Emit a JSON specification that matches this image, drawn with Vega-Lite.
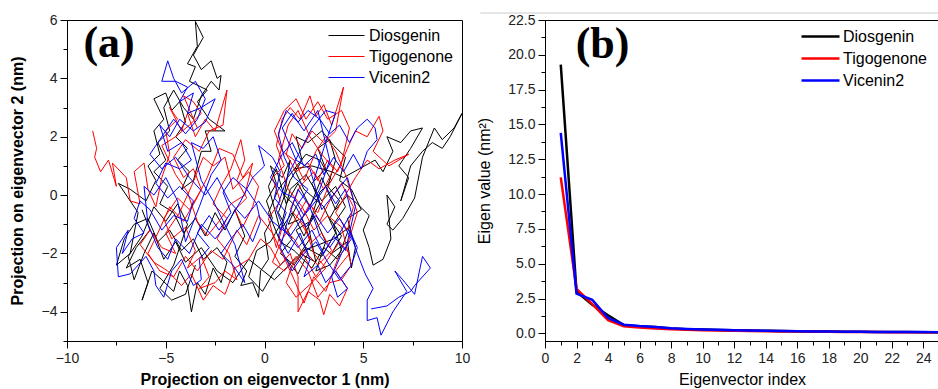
{
  "$schema": "https://vega.github.io/schema/vega-lite/v6.json",
  "padding": {"left": 8, "top": 12, "right": 0, "bottom": 0},
  "spacing": 83,
  "bounds": "flush",
  "resolve": {"scale": {"color": "independent"}, "legend": {"color": "independent"}},
  "config": {
    "font": "Liberation Sans",
    "view": {"stroke": "#000", "strokeWidth": 1},
    "axis": {
      "grid": false, "domainColor": "#000", "tickColor": "#000", "labelColor": "#222",
      "titleColor": "#000", "labelFontSize": 14, "labelFontWeight": "normal", "tickSize": 7,
      "labelPadding": 3, "titleFontSize": 16, "labelFont": "Liberation Sans", "titleFont": "Liberation Sans",
      "labelFlush": false, "labelOverlap": false
    },
    "legend": {
      "orient": "none", "title": null, "labelFontSize": 16,
      "labelColor": "#000", "labelFont": "Liberation Sans", "padding": 0
    }
  },
  "datasets": {
    "trajectory": [
      {"s":"Diosgenin","pc1":-6.2,"pc2":-0.5},{"s":"Diosgenin","pc1":-5.8,"pc2":-1.2},{"s":"Diosgenin","pc1":-6.5,"pc2":-1.8},{"s":"Diosgenin","pc1":-7.0,"pc2":-2.5},{"s":"Diosgenin","pc1":-6.3,"pc2":-2.2},{"s":"Diosgenin","pc1":-5.9,"pc2":-3.0},{"s":"Diosgenin","pc1":-6.2,"pc2":-3.6},{"s":"Diosgenin","pc1":-5.7,"pc2":-2.6},{"s":"Diosgenin","pc1":-5.2,"pc2":-2.9},{"s":"Diosgenin","pc1":-4.6,"pc2":-3.3},{"s":"Diosgenin","pc1":-4.3,"pc2":-2.6},{"s":"Diosgenin","pc1":-3.9,"pc2":-3.1},{"s":"Diosgenin","pc1":-3.7,"pc2":-4.0},{"s":"Diosgenin","pc1":-3.4,"pc2":-3.0},{"s":"Diosgenin","pc1":-3.0,"pc2":-3.4},{"s":"Diosgenin","pc1":-2.6,"pc2":-2.5},{"s":"Diosgenin","pc1":-2.2,"pc2":-3.0},{"s":"Diosgenin","pc1":-1.9,"pc2":-2.3},{"s":"Diosgenin","pc1":-2.4,"pc2":-1.8},{"s":"Diosgenin","pc1":-3.1,"pc2":-2.2},{"s":"Diosgenin","pc1":-3.6,"pc2":-1.5},{"s":"Diosgenin","pc1":-4.2,"pc2":-1.9},{"s":"Diosgenin","pc1":-4.8,"pc2":-1.2},{"s":"Diosgenin","pc1":-5.4,"pc2":-1.6},{"s":"Diosgenin","pc1":-5.9,"pc2":-0.8},{"s":"Diosgenin","pc1":-6.6,"pc2":-1.0},{"s":"Diosgenin","pc1":-7.1,"pc2":-1.5},{"s":"Diosgenin","pc1":-7.5,"pc2":-2.4},{"s":"Diosgenin","pc1":-6.8,"pc2":-2.0},{"s":"Diosgenin","pc1":-6.4,"pc2":-0.6},{"s":"Diosgenin","pc1":-7.4,"pc2":0.4},{"s":"Diosgenin","pc1":-6.8,"pc2":0.2},{"s":"Diosgenin","pc1":-6.0,"pc2":-0.2},{"s":"Diosgenin","pc1":-5.5,"pc2":0.5},{"s":"Diosgenin","pc1":-5.9,"pc2":1.0},{"s":"Diosgenin","pc1":-5.3,"pc2":1.4},{"s":"Diosgenin","pc1":-5.6,"pc2":2.2},{"s":"Diosgenin","pc1":-5.1,"pc2":2.6},{"s":"Diosgenin","pc1":-5.6,"pc2":3.3},{"s":"Diosgenin","pc1":-5.0,"pc2":3.5},{"s":"Diosgenin","pc1":-4.7,"pc2":2.9},{"s":"Diosgenin","pc1":-4.3,"pc2":3.2},{"s":"Diosgenin","pc1":-4.0,"pc2":2.5},{"s":"Diosgenin","pc1":-4.5,"pc2":2.0},{"s":"Diosgenin","pc1":-3.9,"pc2":1.6},{"s":"Diosgenin","pc1":-4.4,"pc2":1.2},{"s":"Diosgenin","pc1":-3.8,"pc2":0.8},{"s":"Diosgenin","pc1":-4.2,"pc2":0.2},{"s":"Diosgenin","pc1":-3.6,"pc2":0.5},{"s":"Diosgenin","pc1":-3.2,"pc2":1.5},{"s":"Diosgenin","pc1":-2.7,"pc2":1.5},{"s":"Diosgenin","pc1":-3.0,"pc2":2.2},{"s":"Diosgenin","pc1":-2.0,"pc2":2.2},{"s":"Diosgenin","pc1":-2.8,"pc2":2.6},{"s":"Diosgenin","pc1":-3.4,"pc2":3.2},{"s":"Diosgenin","pc1":-2.9,"pc2":3.6},{"s":"Diosgenin","pc1":-3.8,"pc2":3.9},{"s":"Diosgenin","pc1":-3.5,"pc2":4.4},{"s":"Diosgenin","pc1":-3.9,"pc2":4.5},{"s":"Diosgenin","pc1":-3.4,"pc2":5.1},{"s":"Diosgenin","pc1":-3.5,"pc2":5.95},{"s":"Diosgenin","pc1":-3.1,"pc2":5.4},{"s":"Diosgenin","pc1":-3.6,"pc2":4.8},{"s":"Diosgenin","pc1":-3.2,"pc2":4.3},{"s":"Diosgenin","pc1":-2.7,"pc2":4.6},{"s":"Diosgenin","pc1":-2.4,"pc2":4.0},{"s":"Diosgenin","pc1":-2.2,"pc2":4.1},{"s":"Diosgenin","pc1":-2.3,"pc2":3.6},{"s":"Diosgenin","pc1":-2.7,"pc2":3.9},{"s":"Diosgenin","pc1":-3.2,"pc2":3.4},{"s":"Diosgenin","pc1":-3.6,"pc2":2.6},{"s":"Diosgenin","pc1":-4.1,"pc2":3.0},{"s":"Diosgenin","pc1":-4.6,"pc2":3.6},{"s":"Diosgenin","pc1":-5.1,"pc2":3.0},{"s":"Diosgenin","pc1":-4.8,"pc2":2.2},{"s":"Diosgenin","pc1":-5.4,"pc2":1.8},{"s":"Diosgenin","pc1":-5.0,"pc2":1.2},{"s":"Diosgenin","pc1":-5.6,"pc2":0.8},{"s":"Diosgenin","pc1":-4.9,"pc2":0.3},{"s":"Diosgenin","pc1":-5.3,"pc2":-0.3},{"s":"Diosgenin","pc1":-4.6,"pc2":-0.6},{"s":"Diosgenin","pc1":-4.1,"pc2":-1.3},{"s":"Diosgenin","pc1":-3.5,"pc2":-0.8},{"s":"Diosgenin","pc1":-3.0,"pc2":-1.4},{"s":"Diosgenin","pc1":-2.5,"pc2":-0.6},{"s":"Diosgenin","pc1":-2.0,"pc2":-1.2},{"s":"Diosgenin","pc1":-1.5,"pc2":-0.5},{"s":"Diosgenin","pc1":-1.0,"pc2":-1.4},{"s":"Diosgenin","pc1":-1.5,"pc2":-2.1},{"s":"Diosgenin","pc1":-0.9,"pc2":-2.6},{"s":"Diosgenin","pc1":-1.2,"pc2":-3.1},{"s":"Diosgenin","pc1":-0.6,"pc2":-3.0},{"s":"Diosgenin","pc1":-0.3,"pc2":-3.5},{"s":"Diosgenin","pc1":-0.2,"pc2":-2.6},{"s":"Diosgenin","pc1":0.2,"pc2":-2.2},{"s":"Diosgenin","pc1":0.0,"pc2":-1.3},{"s":"Diosgenin","pc1":0.4,"pc2":-0.8},{"s":"Diosgenin","pc1":0.1,"pc2":-0.2},{"s":"Diosgenin","pc1":0.6,"pc2":0.4},{"s":"Diosgenin","pc1":0.3,"pc2":1.0},{"s":"Diosgenin","pc1":0.9,"pc2":0.6},{"s":"Diosgenin","pc1":1.3,"pc2":1.2},{"s":"Diosgenin","pc1":1.0,"pc2":0.0},{"s":"Diosgenin","pc1":1.6,"pc2":-0.4},{"s":"Diosgenin","pc1":1.2,"pc2":-1.0},{"s":"Diosgenin","pc1":1.9,"pc2":-0.8},{"s":"Diosgenin","pc1":2.3,"pc2":-1.5},{"s":"Diosgenin","pc1":1.8,"pc2":-2.0},{"s":"Diosgenin","pc1":2.6,"pc2":-2.3},{"s":"Diosgenin","pc1":2.2,"pc2":-1.0},{"s":"Diosgenin","pc1":2.8,"pc2":-0.3},{"s":"Diosgenin","pc1":2.4,"pc2":0.4},{"s":"Diosgenin","pc1":3.1,"pc2":0.9},{"s":"Diosgenin","pc1":2.7,"pc2":1.6},{"s":"Diosgenin","pc1":3.3,"pc2":1.9},{"s":"Diosgenin","pc1":3.6,"pc2":1.2},{"s":"Diosgenin","pc1":3.2,"pc2":0.3},{"s":"Diosgenin","pc1":3.8,"pc2":-0.2},{"s":"Diosgenin","pc1":3.3,"pc2":-0.8},{"s":"Diosgenin","pc1":3.9,"pc2":-1.4},{"s":"Diosgenin","pc1":3.4,"pc2":-2.0},{"s":"Diosgenin","pc1":4.2,"pc2":-1.6},{"s":"Diosgenin","pc1":4.4,"pc2":-2.5},{"s":"Diosgenin","pc1":4.6,"pc2":-1.8},{"s":"Diosgenin","pc1":4.2,"pc2":-0.8},{"s":"Diosgenin","pc1":4.9,"pc2":-0.5},{"s":"Diosgenin","pc1":4.4,"pc2":0.2},{"s":"Diosgenin","pc1":3.8,"pc2":0.5},{"s":"Diosgenin","pc1":4.1,"pc2":1.3},{"s":"Diosgenin","pc1":3.5,"pc2":1.7},{"s":"Diosgenin","pc1":2.9,"pc2":2.2},{"s":"Diosgenin","pc1":2.2,"pc2":1.8},{"s":"Diosgenin","pc1":1.6,"pc2":2.0},{"s":"Diosgenin","pc1":1.9,"pc2":1.2},{"s":"Diosgenin","pc1":1.3,"pc2":0.5},{"s":"Diosgenin","pc1":0.7,"pc2":-0.6},{"s":"Diosgenin","pc1":1.4,"pc2":-1.5},{"s":"Diosgenin","pc1":0.8,"pc2":-2.0},{"s":"Diosgenin","pc1":1.5,"pc2":-2.4},{"s":"Diosgenin","pc1":2.1,"pc2":-1.8},{"s":"Diosgenin","pc1":2.9,"pc2":-2.1},{"s":"Diosgenin","pc1":3.6,"pc2":-1.3},{"s":"Diosgenin","pc1":3.0,"pc2":-0.4},{"s":"Diosgenin","pc1":2.0,"pc2":0.2},{"s":"Diosgenin","pc1":1.5,"pc2":0.9},{"s":"Diosgenin","pc1":2.4,"pc2":1.0},{"s":"Diosgenin","pc1":3.4,"pc2":0.8},{"s":"Diosgenin","pc1":4.0,"pc2":0.6},{"s":"Diosgenin","pc1":4.8,"pc2":0.9},{"s":"Diosgenin","pc1":5.6,"pc2":1.2},{"s":"Diosgenin","pc1":6.0,"pc2":0.8},{"s":"Diosgenin","pc1":6.5,"pc2":1.5},{"s":"Diosgenin","pc1":6.2,"pc2":2.0},{"s":"Diosgenin","pc1":6.9,"pc2":1.8},{"s":"Diosgenin","pc1":7.4,"pc2":2.2},{"s":"Diosgenin","pc1":8.0,"pc2":2.3},{"s":"Diosgenin","pc1":7.4,"pc2":1.6},{"s":"Diosgenin","pc1":6.8,"pc2":1.0},{"s":"Diosgenin","pc1":7.3,"pc2":0.6},{"s":"Diosgenin","pc1":6.9,"pc2":-0.2},{"s":"Diosgenin","pc1":7.4,"pc2":1.0},{"s":"Diosgenin","pc1":8.0,"pc2":1.5},{"s":"Diosgenin","pc1":8.5,"pc2":1.8},{"s":"Diosgenin","pc1":9.0,"pc2":1.6},{"s":"Diosgenin","pc1":9.4,"pc2":2.0},{"s":"Diosgenin","pc1":10.0,"pc2":2.8},{"s":"Diosgenin","pc1":9.6,"pc2":2.3},{"s":"Diosgenin","pc1":9.0,"pc2":1.9},{"s":"Diosgenin","pc1":8.6,"pc2":2.3},{"s":"Diosgenin","pc1":8.0,"pc2":1.3},{"s":"Diosgenin","pc1":7.6,"pc2":-0.1},{"s":"Diosgenin","pc1":7.0,"pc2":-0.8},{"s":"Diosgenin","pc1":6.5,"pc2":-1.2},{"s":"Diosgenin","pc1":6.2,"pc2":-1.0},{"s":"Diosgenin","pc1":6.6,"pc2":-0.4},{"s":"Diosgenin","pc1":6.2,"pc2":0.0},{"s":"Diosgenin","pc1":6.4,"pc2":-1.5},{"s":"Diosgenin","pc1":6.0,"pc2":-2.2},{"s":"Diosgenin","pc1":5.5,"pc2":-2.4},{"s":"Diosgenin","pc1":5.3,"pc2":-1.8},{"s":"Diosgenin","pc1":5.0,"pc2":-1.2},{"s":"Diosgenin","pc1":5.3,"pc2":-0.7},{"s":"Diosgenin","pc1":4.7,"pc2":-0.3},{"s":"Diosgenin","pc1":4.2,"pc2":0.0},{"s":"Diosgenin","pc1":3.6,"pc2":-0.5},{"s":"Diosgenin","pc1":2.9,"pc2":0.6},{"s":"Diosgenin","pc1":2.3,"pc2":-0.4},{"s":"Diosgenin","pc1":1.7,"pc2":0.4},{"s":"Diosgenin","pc1":1.1,"pc2":-0.3},{"s":"Diosgenin","pc1":0.6,"pc2":0.9},{"s":"Diosgenin","pc1":0.2,"pc2":0.3},{"s":"Diosgenin","pc1":0.8,"pc2":-1.2},{"s":"Diosgenin","pc1":1.4,"pc2":-0.6},{"s":"Diosgenin","pc1":2.0,"pc2":-1.4},{"s":"Diosgenin","pc1":2.5,"pc2":-0.7},{"s":"Diosgenin","pc1":3.1,"pc2":-1.6},{"s":"Diosgenin","pc1":2.6,"pc2":-2.6},{"s":"Diosgenin","pc1":3.3,"pc2":-2.4},{"s":"Diosgenin","pc1":3.9,"pc2":-1.9},{"s":"Diosgenin","pc1":3.5,"pc2":-1.0},{"s":"Diosgenin","pc1":4.1,"pc2":-0.4},{"s":"Diosgenin","pc1":3.6,"pc2":0.3},{"s":"Diosgenin","pc1":2.9,"pc2":-0.2},{"s":"Diosgenin","pc1":2.1,"pc2":0.7},{"s":"Diosgenin","pc1":1.3,"pc2":0.2},{"s":"Diosgenin","pc1":0.9,"pc2":-0.9},{"s":"Diosgenin","pc1":0.3,"pc2":-1.6},{"s":"Diosgenin","pc1":-0.4,"pc2":-1.9},{"s":"Diosgenin","pc1":-0.8,"pc2":-2.8},{"s":"Diosgenin","pc1":-0.1,"pc2":-3.3},{"s":"Diosgenin","pc1":0.5,"pc2":-2.6},{"s":"Diosgenin","pc1":1.1,"pc2":-2.2},{"s":"Diosgenin","pc1":1.7,"pc2":-2.7},{"s":"Diosgenin","pc1":2.2,"pc2":-2.0},{"s":"Diosgenin","pc1":1.6,"pc2":-1.2},{"s":"Diosgenin","pc1":2.3,"pc2":-0.9},{"s":"Diosgenin","pc1":2.8,"pc2":0.1},{"s":"Diosgenin","pc1":3.4,"pc2":0.5},{"s":"Diosgenin","pc1":2.8,"pc2":1.2},{"s":"Diosgenin","pc1":2.1,"pc2":1.4},{"s":"Diosgenin","pc1":1.4,"pc2":0.8},{"s":"Diosgenin","pc1":0.7,"pc2":0.2},{"s":"Diosgenin","pc1":0.2,"pc2":-0.6},{"s":"Diosgenin","pc1":0.8,"pc2":-1.6},{"s":"Diosgenin","pc1":1.5,"pc2":-1.9},{"s":"Diosgenin","pc1":2.4,"pc2":-2.5},{"s":"Diosgenin","pc1":3.0,"pc2":-1.8},{"s":"Diosgenin","pc1":3.7,"pc2":-2.2},{"s":"Diosgenin","pc1":4.3,"pc2":-1.1},{"s":"Diosgenin","pc1":3.5,"pc2":-1.5},{"s":"Diosgenin","pc1":2.0,"pc2":-1.9},{"s":"Diosgenin","pc1":0.5,"pc2":-2.9},{"s":"Diosgenin","pc1":-0.8,"pc2":-2.2},{"s":"Diosgenin","pc1":-1.6,"pc2":-3.0},{"s":"Diosgenin","pc1":-2.4,"pc2":-2.6},{"s":"Diosgenin","pc1":-3.2,"pc2":-1.8},{"s":"Diosgenin","pc1":-4.0,"pc2":-2.3},{"s":"Diosgenin","pc1":-4.5,"pc2":-1.6},{"s":"Diosgenin","pc1":-5.1,"pc2":-2.2},{"s":"Diosgenin","pc1":-5.6,"pc2":-1.3},{"s":"Diosgenin","pc1":-6.1,"pc2":-2.0},{"s":"Diosgenin","pc1":-6.6,"pc2":-2.9},{"s":"Diosgenin","pc1":-6.9,"pc2":-2.1},{"s":"Diosgenin","pc1":-6.2,"pc2":-1.4},{"s":"Diosgenin","pc1":-5.6,"pc2":-0.4},{"s":"Diosgenin","pc1":-5.0,"pc2":-0.9},{"s":"Diosgenin","pc1":-4.4,"pc2":-0.3},{"s":"Diosgenin","pc1":-3.9,"pc2":-1.0},{"s":"Diosgenin","pc1":-4.6,"pc2":-2.4},{"s":"Diosgenin","pc1":-5.3,"pc2":-3.2},{"s":"Diosgenin","pc1":-4.7,"pc2":-3.6},{"s":"Diosgenin","pc1":-4.0,"pc2":-3.4},{"s":"Diosgenin","pc1":-3.5,"pc2":-2.4},
      {"s":"Tigogenone","pc1":-8.7,"pc2":2.2},{"s":"Tigogenone","pc1":-8.5,"pc2":1.6},{"s":"Tigogenone","pc1":-8.6,"pc2":1.3},{"s":"Tigogenone","pc1":-8.3,"pc2":0.8},{"s":"Tigogenone","pc1":-7.9,"pc2":1.2},{"s":"Tigogenone","pc1":-7.5,"pc2":0.3},{"s":"Tigogenone","pc1":-7.7,"pc2":1.1},{"s":"Tigogenone","pc1":-7.0,"pc2":0.6},{"s":"Tigogenone","pc1":-6.8,"pc2":-0.2},{"s":"Tigogenone","pc1":-6.3,"pc2":-0.3},{"s":"Tigogenone","pc1":-6.6,"pc2":0.8},{"s":"Tigogenone","pc1":-6.1,"pc2":1.1},{"s":"Tigogenone","pc1":-5.9,"pc2":0.2},{"s":"Tigogenone","pc1":-5.5,"pc2":-0.4},{"s":"Tigogenone","pc1":-5.2,"pc2":0.6},{"s":"Tigogenone","pc1":-4.8,"pc2":1.4},{"s":"Tigogenone","pc1":-5.0,"pc2":2.2},{"s":"Tigogenone","pc1":-4.4,"pc2":2.6},{"s":"Tigogenone","pc1":-4.8,"pc2":3.0},{"s":"Tigogenone","pc1":-4.2,"pc2":2.2},{"s":"Tigogenone","pc1":-3.9,"pc2":2.8},{"s":"Tigogenone","pc1":-3.5,"pc2":2.0},{"s":"Tigogenone","pc1":-3.0,"pc2":2.6},{"s":"Tigogenone","pc1":-2.5,"pc2":2.2},{"s":"Tigogenone","pc1":-1.9,"pc2":3.6},{"s":"Tigogenone","pc1":-2.1,"pc2":2.4},{"s":"Tigogenone","pc1":-2.8,"pc2":2.2},{"s":"Tigogenone","pc1":-3.3,"pc2":1.5},{"s":"Tigogenone","pc1":-4.0,"pc2":1.9},{"s":"Tigogenone","pc1":-4.6,"pc2":1.3},{"s":"Tigogenone","pc1":-4.1,"pc2":0.6},{"s":"Tigogenone","pc1":-3.6,"pc2":0.9},{"s":"Tigogenone","pc1":-3.2,"pc2":0.2},{"s":"Tigogenone","pc1":-3.8,"pc2":-0.5},{"s":"Tigogenone","pc1":-4.4,"pc2":-0.1},{"s":"Tigogenone","pc1":-5.1,"pc2":-0.8},{"s":"Tigogenone","pc1":-4.7,"pc2":-1.5},{"s":"Tigogenone","pc1":-4.0,"pc2":-1.1},{"s":"Tigogenone","pc1":-3.5,"pc2":-1.9},{"s":"Tigogenone","pc1":-3.9,"pc2":-2.5},{"s":"Tigogenone","pc1":-3.2,"pc2":-2.1},{"s":"Tigogenone","pc1":-2.8,"pc2":-2.8},{"s":"Tigogenone","pc1":-3.3,"pc2":-3.2},{"s":"Tigogenone","pc1":-2.5,"pc2":-3.0},{"s":"Tigogenone","pc1":-2.0,"pc2":-2.6},{"s":"Tigogenone","pc1":-1.4,"pc2":-2.9},{"s":"Tigogenone","pc1":-1.8,"pc2":-2.0},{"s":"Tigogenone","pc1":-2.4,"pc2":-1.5},{"s":"Tigogenone","pc1":-1.9,"pc2":-0.8},{"s":"Tigogenone","pc1":-2.6,"pc2":-0.3},{"s":"Tigogenone","pc1":-2.2,"pc2":0.3},{"s":"Tigogenone","pc1":-1.7,"pc2":0.9},{"s":"Tigogenone","pc1":-1.2,"pc2":1.9},{"s":"Tigogenone","pc1":-1.0,"pc2":1.2},{"s":"Tigogenone","pc1":-1.4,"pc2":0.5},{"s":"Tigogenone","pc1":-0.9,"pc2":-0.1},{"s":"Tigogenone","pc1":-1.5,"pc2":-0.5},{"s":"Tigogenone","pc1":-1.1,"pc2":-1.1},{"s":"Tigogenone","pc1":-0.6,"pc2":-0.4},{"s":"Tigogenone","pc1":-0.3,"pc2":0.3},{"s":"Tigogenone","pc1":-0.8,"pc2":0.8},{"s":"Tigogenone","pc1":-1.6,"pc2":0.2},{"s":"Tigogenone","pc1":-2.0,"pc2":1.3},{"s":"Tigogenone","pc1":-2.6,"pc2":1.0},{"s":"Tigogenone","pc1":-3.1,"pc2":1.3},{"s":"Tigogenone","pc1":-3.7,"pc2":0.3},{"s":"Tigogenone","pc1":-4.3,"pc2":-0.6},{"s":"Tigogenone","pc1":-5.0,"pc2":-1.3},{"s":"Tigogenone","pc1":-4.5,"pc2":-2.0},{"s":"Tigogenone","pc1":-5.2,"pc2":-1.8},{"s":"Tigogenone","pc1":-5.8,"pc2":-1.2},{"s":"Tigogenone","pc1":-6.3,"pc2":-1.7},{"s":"Tigogenone","pc1":-5.6,"pc2":-2.3},{"s":"Tigogenone","pc1":-4.9,"pc2":-2.6},{"s":"Tigogenone","pc1":-4.2,"pc2":-3.1},{"s":"Tigogenone","pc1":-3.7,"pc2":-2.7},{"s":"Tigogenone","pc1":-3.1,"pc2":-3.6},{"s":"Tigogenone","pc1":-2.6,"pc2":-3.1},{"s":"Tigogenone","pc1":-2.0,"pc2":-3.4},{"s":"Tigogenone","pc1":-1.5,"pc2":-2.5},{"s":"Tigogenone","pc1":-0.8,"pc2":-2.2},{"s":"Tigogenone","pc1":-0.2,"pc2":-1.5},{"s":"Tigogenone","pc1":0.3,"pc2":-1.8},{"s":"Tigogenone","pc1":0.8,"pc2":-2.4},{"s":"Tigogenone","pc1":1.3,"pc2":-2.0},{"s":"Tigogenone","pc1":1.7,"pc2":-2.8},{"s":"Tigogenone","pc1":1.7,"pc2":-4.0},{"s":"Tigogenone","pc1":2.2,"pc2":-3.3},{"s":"Tigogenone","pc1":2.8,"pc2":-3.6},{"s":"Tigogenone","pc1":3.0,"pc2":-4.1},{"s":"Tigogenone","pc1":3.3,"pc2":-3.4},{"s":"Tigogenone","pc1":3.8,"pc2":-3.8},{"s":"Tigogenone","pc1":4.2,"pc2":-3.2},{"s":"Tigogenone","pc1":3.6,"pc2":-2.6},{"s":"Tigogenone","pc1":4.3,"pc2":-2.0},{"s":"Tigogenone","pc1":3.8,"pc2":-1.6},{"s":"Tigogenone","pc1":3.2,"pc2":-2.2},{"s":"Tigogenone","pc1":2.6,"pc2":-2.8},{"s":"Tigogenone","pc1":2.1,"pc2":-2.2},{"s":"Tigogenone","pc1":1.5,"pc2":-1.5},{"s":"Tigogenone","pc1":0.9,"pc2":-1.1},{"s":"Tigogenone","pc1":0.6,"pc2":-1.8},{"s":"Tigogenone","pc1":0.2,"pc2":-0.8},{"s":"Tigogenone","pc1":0.8,"pc2":-0.2},{"s":"Tigogenone","pc1":0.4,"pc2":0.6},{"s":"Tigogenone","pc1":1.0,"pc2":1.0},{"s":"Tigogenone","pc1":0.6,"pc2":1.7},{"s":"Tigogenone","pc1":0.9,"pc2":2.6},{"s":"Tigogenone","pc1":1.3,"pc2":3.0},{"s":"Tigogenone","pc1":1.8,"pc2":2.6},{"s":"Tigogenone","pc1":2.3,"pc2":3.4},{"s":"Tigogenone","pc1":2.6,"pc2":2.7},{"s":"Tigogenone","pc1":3.0,"pc2":3.1},{"s":"Tigogenone","pc1":3.4,"pc2":2.4},{"s":"Tigogenone","pc1":4.0,"pc2":3.7},{"s":"Tigogenone","pc1":3.6,"pc2":2.2},{"s":"Tigogenone","pc1":3.0,"pc2":1.8},{"s":"Tigogenone","pc1":2.4,"pc2":2.2},{"s":"Tigogenone","pc1":1.9,"pc2":1.6},{"s":"Tigogenone","pc1":1.4,"pc2":2.1},{"s":"Tigogenone","pc1":1.1,"pc2":1.4},{"s":"Tigogenone","pc1":1.6,"pc2":0.8},{"s":"Tigogenone","pc1":2.2,"pc2":1.1},{"s":"Tigogenone","pc1":2.7,"pc2":0.5},{"s":"Tigogenone","pc1":3.2,"pc2":1.2},{"s":"Tigogenone","pc1":3.7,"pc2":0.8},{"s":"Tigogenone","pc1":4.2,"pc2":1.6},{"s":"Tigogenone","pc1":4.6,"pc2":2.2},{"s":"Tigogenone","pc1":5.2,"pc2":2.0},{"s":"Tigogenone","pc1":5.8,"pc2":2.7},{"s":"Tigogenone","pc1":6.0,"pc2":2.2},{"s":"Tigogenone","pc1":5.5,"pc2":1.5},{"s":"Tigogenone","pc1":6.3,"pc2":1.0},{"s":"Tigogenone","pc1":7.3,"pc2":1.4},{"s":"Tigogenone","pc1":6.6,"pc2":1.2},{"s":"Tigogenone","pc1":5.8,"pc2":0.9},{"s":"Tigogenone","pc1":5.2,"pc2":1.2},{"s":"Tigogenone","pc1":4.6,"pc2":0.6},{"s":"Tigogenone","pc1":4.1,"pc2":0.0},{"s":"Tigogenone","pc1":3.6,"pc2":-0.6},{"s":"Tigogenone","pc1":4.2,"pc2":-1.2},{"s":"Tigogenone","pc1":4.5,"pc2":-0.4},{"s":"Tigogenone","pc1":3.9,"pc2":0.4},{"s":"Tigogenone","pc1":3.3,"pc2":-0.2},{"s":"Tigogenone","pc1":2.8,"pc2":-0.9},{"s":"Tigogenone","pc1":2.3,"pc2":-0.3},{"s":"Tigogenone","pc1":1.8,"pc2":-0.9},{"s":"Tigogenone","pc1":2.4,"pc2":-1.6},{"s":"Tigogenone","pc1":2.9,"pc2":-1.3},{"s":"Tigogenone","pc1":3.4,"pc2":-1.9},{"s":"Tigogenone","pc1":2.7,"pc2":-2.4},{"s":"Tigogenone","pc1":2.0,"pc2":-1.9},{"s":"Tigogenone","pc1":1.4,"pc2":-2.4},{"s":"Tigogenone","pc1":1.1,"pc2":-3.0},{"s":"Tigogenone","pc1":1.6,"pc2":-3.5},{"s":"Tigogenone","pc1":2.4,"pc2":-3.0},{"s":"Tigogenone","pc1":3.1,"pc2":-2.5},{"s":"Tigogenone","pc1":2.5,"pc2":-2.0},{"s":"Tigogenone","pc1":2.0,"pc2":-1.0},{"s":"Tigogenone","pc1":1.3,"pc2":-0.5},{"s":"Tigogenone","pc1":1.8,"pc2":0.3},{"s":"Tigogenone","pc1":2.5,"pc2":0.8},{"s":"Tigogenone","pc1":3.0,"pc2":0.2},{"s":"Tigogenone","pc1":3.5,"pc2":0.9},{"s":"Tigogenone","pc1":2.9,"pc2":1.4},{"s":"Tigogenone","pc1":2.3,"pc2":2.0},{"s":"Tigogenone","pc1":1.7,"pc2":2.9},{"s":"Tigogenone","pc1":1.2,"pc2":2.4},{"s":"Tigogenone","pc1":0.7,"pc2":1.2},{"s":"Tigogenone","pc1":1.2,"pc2":0.2},{"s":"Tigogenone","pc1":1.9,"pc2":-0.4},{"s":"Tigogenone","pc1":2.5,"pc2":-1.2},{"s":"Tigogenone","pc1":3.2,"pc2":-0.7},{"s":"Tigogenone","pc1":3.9,"pc2":-1.1},{"s":"Tigogenone","pc1":4.4,"pc2":-2.4},{"s":"Tigogenone","pc1":3.9,"pc2":-2.9},{"s":"Tigogenone","pc1":3.3,"pc2":-3.0},{"s":"Tigogenone","pc1":2.7,"pc2":-3.5},{"s":"Tigogenone","pc1":2.2,"pc2":-2.6},{"s":"Tigogenone","pc1":1.6,"pc2":-2.1},{"s":"Tigogenone","pc1":1.0,"pc2":-2.6},{"s":"Tigogenone","pc1":0.4,"pc2":-2.3},{"s":"Tigogenone","pc1":0.9,"pc2":-1.5},{"s":"Tigogenone","pc1":1.5,"pc2":-0.9},{"s":"Tigogenone","pc1":2.1,"pc2":-0.2},{"s":"Tigogenone","pc1":2.7,"pc2":-0.6},{"s":"Tigogenone","pc1":3.3,"pc2":0.4},{"s":"Tigogenone","pc1":3.9,"pc2":1.1},{"s":"Tigogenone","pc1":4.3,"pc2":2.3},{"s":"Tigogenone","pc1":3.9,"pc2":2.9},{"s":"Tigogenone","pc1":3.2,"pc2":2.6},{"s":"Tigogenone","pc1":2.7,"pc2":3.2},{"s":"Tigogenone","pc1":2.1,"pc2":2.6},{"s":"Tigogenone","pc1":1.6,"pc2":3.3},{"s":"Tigogenone","pc1":1.0,"pc2":2.9},{"s":"Tigogenone","pc1":0.5,"pc2":2.2},{"s":"Tigogenone","pc1":0.9,"pc2":1.5},{"s":"Tigogenone","pc1":1.5,"pc2":1.2},{"s":"Tigogenone","pc1":2.0,"pc2":0.5},{"s":"Tigogenone","pc1":2.6,"pc2":1.5},{"s":"Tigogenone","pc1":3.1,"pc2":2.0},{"s":"Tigogenone","pc1":3.6,"pc2":1.5},{"s":"Tigogenone","pc1":4.1,"pc2":0.7},{"s":"Tigogenone","pc1":4.7,"pc2":-0.6},{"s":"Tigogenone","pc1":4.2,"pc2":-1.7},{"s":"Tigogenone","pc1":3.7,"pc2":-2.2},{"s":"Tigogenone","pc1":3.1,"pc2":-3.3},{"s":"Tigogenone","pc1":2.5,"pc2":-2.8},{"s":"Tigogenone","pc1":2.0,"pc2":-3.7},{"s":"Tigogenone","pc1":1.5,"pc2":-2.9},{"s":"Tigogenone","pc1":1.1,"pc2":-2.3},{"s":"Tigogenone","pc1":0.4,"pc2":-1.3},{"s":"Tigogenone","pc1":-0.3,"pc2":-0.7},{"s":"Tigogenone","pc1":-0.9,"pc2":-1.7},{"s":"Tigogenone","pc1":-1.4,"pc2":-1.2},{"s":"Tigogenone","pc1":-2.1,"pc2":-2.2},{"s":"Tigogenone","pc1":-2.7,"pc2":-1.9},{"s":"Tigogenone","pc1":-3.4,"pc2":-2.6},{"s":"Tigogenone","pc1":-4.0,"pc2":-2.1},{"s":"Tigogenone","pc1":-4.6,"pc2":-2.8},{"s":"Tigogenone","pc1":-5.3,"pc2":-2.6},{"s":"Tigogenone","pc1":-5.9,"pc2":-2.0},{"s":"Tigogenone","pc1":-5.4,"pc2":-1.3},{"s":"Tigogenone","pc1":-4.8,"pc2":-0.4},{"s":"Tigogenone","pc1":-4.1,"pc2":-0.9},{"s":"Tigogenone","pc1":-3.5,"pc2":-0.2},{"s":"Tigogenone","pc1":-2.9,"pc2":0.6},{"s":"Tigogenone","pc1":-2.3,"pc2":1.6},{"s":"Tigogenone","pc1":-1.6,"pc2":1.4},{"s":"Tigogenone","pc1":-1.1,"pc2":0.6},{"s":"Tigogenone","pc1":-0.6,"pc2":1.1},{"s":"Tigogenone","pc1":-1.0,"pc2":0.0},{"s":"Tigogenone","pc1":-1.7,"pc2":-0.3},{"s":"Tigogenone","pc1":-2.3,"pc2":-0.9},{"s":"Tigogenone","pc1":-2.9,"pc2":-1.4},{"s":"Tigogenone","pc1":-3.4,"pc2":-0.9},{"s":"Tigogenone","pc1":-3.9,"pc2":0.1},{"s":"Tigogenone","pc1":-4.5,"pc2":0.7},{"s":"Tigogenone","pc1":-5.2,"pc2":1.7},{"s":"Tigogenone","pc1":-4.5,"pc2":2.0},{"s":"Tigogenone","pc1":-3.8,"pc2":2.4},{"s":"Tigogenone","pc1":-3.2,"pc2":2.8},{"s":"Tigogenone","pc1":-3.6,"pc2":3.2},{"s":"Tigogenone","pc1":-4.1,"pc2":3.4},{"s":"Tigogenone","pc1":-3.4,"pc2":2.3},
      {"s":"Vicenin2","pc1":2.5,"pc2":0.5},{"s":"Vicenin2","pc1":3.0,"pc2":1.6},{"s":"Vicenin2","pc1":3.6,"pc2":2.8},{"s":"Vicenin2","pc1":3.1,"pc2":2.9},{"s":"Vicenin2","pc1":2.4,"pc2":2.3},{"s":"Vicenin2","pc1":1.8,"pc2":1.5},{"s":"Vicenin2","pc1":1.2,"pc2":0.7},{"s":"Vicenin2","pc1":0.6,"pc2":-0.5},{"s":"Vicenin2","pc1":1.0,"pc2":-1.2},{"s":"Vicenin2","pc1":1.7,"pc2":-1.8},{"s":"Vicenin2","pc1":2.4,"pc2":-1.2},{"s":"Vicenin2","pc1":3.0,"pc2":-2.0},{"s":"Vicenin2","pc1":3.5,"pc2":-1.4},{"s":"Vicenin2","pc1":4.1,"pc2":-1.9},{"s":"Vicenin2","pc1":4.6,"pc2":-0.4},{"s":"Vicenin2","pc1":4.2,"pc2":0.6},{"s":"Vicenin2","pc1":3.6,"pc2":0.1},{"s":"Vicenin2","pc1":2.9,"pc2":-0.5},{"s":"Vicenin2","pc1":2.3,"pc2":0.9},{"s":"Vicenin2","pc1":1.6,"pc2":1.2},{"s":"Vicenin2","pc1":0.9,"pc2":2.3},{"s":"Vicenin2","pc1":1.4,"pc2":2.8},{"s":"Vicenin2","pc1":2.0,"pc2":2.2},{"s":"Vicenin2","pc1":2.7,"pc2":2.9},{"s":"Vicenin2","pc1":3.3,"pc2":1.2},{"s":"Vicenin2","pc1":2.8,"pc2":0.2},{"s":"Vicenin2","pc1":2.1,"pc2":-0.6},{"s":"Vicenin2","pc1":1.3,"pc2":-1.4},{"s":"Vicenin2","pc1":0.4,"pc2":-0.9},{"s":"Vicenin2","pc1":-0.3,"pc2":-0.2},{"s":"Vicenin2","pc1":-1.0,"pc2":-0.8},{"s":"Vicenin2","pc1":-1.8,"pc2":-0.2},{"s":"Vicenin2","pc1":-2.4,"pc2":0.6},{"s":"Vicenin2","pc1":-3.0,"pc2":0.0},{"s":"Vicenin2","pc1":-3.8,"pc2":0.6},{"s":"Vicenin2","pc1":-4.5,"pc2":1.3},{"s":"Vicenin2","pc1":-5.2,"pc2":0.9},{"s":"Vicenin2","pc1":-5.8,"pc2":1.4},{"s":"Vicenin2","pc1":-5.3,"pc2":1.9},{"s":"Vicenin2","pc1":-4.6,"pc2":2.6},{"s":"Vicenin2","pc1":-4.0,"pc2":2.1},{"s":"Vicenin2","pc1":-3.4,"pc2":2.6},{"s":"Vicenin2","pc1":-3.0,"pc2":3.3},{"s":"Vicenin2","pc1":-3.5,"pc2":3.9},{"s":"Vicenin2","pc1":-4.2,"pc2":3.5},{"s":"Vicenin2","pc1":-4.6,"pc2":4.0},
      {"s":"Vicenin2","pc1":-4.9,"pc2":4.6},{"s":"Vicenin2","pc1":-5.2,"pc2":3.9},{"s":"Vicenin2","pc1":-4.5,"pc2":3.9},{"s":"Vicenin2","pc1":-3.9,"pc2":3.7},{"s":"Vicenin2","pc1":-4.3,"pc2":3.2},{"s":"Vicenin2","pc1":-3.6,"pc2":3.5},{"s":"Vicenin2","pc1":-3.9,"pc2":2.8},{"s":"Vicenin2","pc1":-3.2,"pc2":3.0},{"s":"Vicenin2","pc1":-2.5,"pc2":3.3},{"s":"Vicenin2","pc1":-3.0,"pc2":2.5},{"s":"Vicenin2","pc1":-3.6,"pc2":2.2},{"s":"Vicenin2","pc1":-4.3,"pc2":2.6},{"s":"Vicenin2","pc1":-4.8,"pc2":2.0},{"s":"Vicenin2","pc1":-5.3,"pc2":2.4},{"s":"Vicenin2","pc1":-4.9,"pc2":1.5},{"s":"Vicenin2","pc1":-4.2,"pc2":1.8},{"s":"Vicenin2","pc1":-3.7,"pc2":1.2},{"s":"Vicenin2","pc1":-4.3,"pc2":0.9},{"s":"Vicenin2","pc1":-5.0,"pc2":1.1},{"s":"Vicenin2","pc1":-5.5,"pc2":0.4},{"s":"Vicenin2","pc1":-4.9,"pc2":-0.1},{"s":"Vicenin2","pc1":-4.3,"pc2":0.3},{"s":"Vicenin2","pc1":-3.6,"pc2":-0.2},{"s":"Vicenin2","pc1":-3.9,"pc2":-0.9},{"s":"Vicenin2","pc1":-4.6,"pc2":-0.7},{"s":"Vicenin2","pc1":-5.2,"pc2":-1.2},{"s":"Vicenin2","pc1":-5.8,"pc2":-0.5},{"s":"Vicenin2","pc1":-6.3,"pc2":-0.2},{"s":"Vicenin2","pc1":-6.6,"pc2":-0.8},{"s":"Vicenin2","pc1":-6.1,"pc2":-1.3},{"s":"Vicenin2","pc1":-6.7,"pc2":-1.5},{"s":"Vicenin2","pc1":-7.2,"pc2":-2.0},{"s":"Vicenin2","pc1":-6.9,"pc2":-1.2},{"s":"Vicenin2","pc1":-7.5,"pc2":-1.8},{"s":"Vicenin2","pc1":-7.4,"pc2":-2.8},{"s":"Vicenin2","pc1":-6.8,"pc2":-2.7},{"s":"Vicenin2","pc1":-6.4,"pc2":-2.4},{"s":"Vicenin2","pc1":-6.0,"pc2":-2.1},{"s":"Vicenin2","pc1":-5.6,"pc2":-2.6},{"s":"Vicenin2","pc1":-5.5,"pc2":-3.1},{"s":"Vicenin2","pc1":-5.1,"pc2":-3.5},{"s":"Vicenin2","pc1":-4.7,"pc2":-2.6},{"s":"Vicenin2","pc1":-4.2,"pc2":-2.2},{"s":"Vicenin2","pc1":-3.6,"pc2":-3.1},{"s":"Vicenin2","pc1":-3.2,"pc2":-2.9},{"s":"Vicenin2","pc1":-3.3,"pc2":-2.2},{"s":"Vicenin2","pc1":-2.8,"pc2":-1.8},{"s":"Vicenin2","pc1":-3.4,"pc2":-1.3},{"s":"Vicenin2","pc1":-2.8,"pc2":-0.7},{"s":"Vicenin2","pc1":-2.3,"pc2":-1.2},{"s":"Vicenin2","pc1":-1.7,"pc2":-0.6},{"s":"Vicenin2","pc1":-2.1,"pc2":0.1},{"s":"Vicenin2","pc1":-1.6,"pc2":0.6},{"s":"Vicenin2","pc1":-0.9,"pc2":0.2},{"s":"Vicenin2","pc1":-0.4,"pc2":-0.3},{"s":"Vicenin2","pc1":-0.2,"pc2":-0.9},{"s":"Vicenin2","pc1":-0.6,"pc2":-1.6},{"s":"Vicenin2","pc1":-1.1,"pc2":-1.0},{"s":"Vicenin2","pc1":-1.7,"pc2":-1.5},{"s":"Vicenin2","pc1":-2.2,"pc2":-2.0},{"s":"Vicenin2","pc1":-1.6,"pc2":-2.4},{"s":"Vicenin2","pc1":-1.0,"pc2":-3.0},{"s":"Vicenin2","pc1":-1.5,"pc2":-1.7},{"s":"Vicenin2","pc1":-2.6,"pc2":-0.2},{"s":"Vicenin2","pc1":-3.2,"pc2":0.5},{"s":"Vicenin2","pc1":-3.7,"pc2":1.8},{"s":"Vicenin2","pc1":-3.1,"pc2":1.6},{"s":"Vicenin2","pc1":-2.6,"pc2":2.0},{"s":"Vicenin2","pc1":-2.2,"pc2":1.2},{"s":"Vicenin2","pc1":-2.7,"pc2":0.7},{"s":"Vicenin2","pc1":-3.3,"pc2":-0.4},{"s":"Vicenin2","pc1":-4.0,"pc2":-1.6},{"s":"Vicenin2","pc1":-4.4,"pc2":-0.2},{"s":"Vicenin2","pc1":-5.0,"pc2":0.6},{"s":"Vicenin2","pc1":-5.6,"pc2":0.0},{"s":"Vicenin2","pc1":-6.1,"pc2":0.3},{"s":"Vicenin2","pc1":-5.9,"pc2":-1.0},{"s":"Vicenin2","pc1":-5.4,"pc2":-1.8},{"s":"Vicenin2","pc1":-4.9,"pc2":-2.2},{"s":"Vicenin2","pc1":-4.5,"pc2":-1.5},{"s":"Vicenin2","pc1":-3.8,"pc2":-2.0},{"s":"Vicenin2","pc1":-3.2,"pc2":-1.0},{"s":"Vicenin2","pc1":-2.5,"pc2":-1.5},{"s":"Vicenin2","pc1":-1.9,"pc2":-1.0},{"s":"Vicenin2","pc1":-1.2,"pc2":-0.2},{"s":"Vicenin2","pc1":-0.6,"pc2":0.6},{"s":"Vicenin2","pc1":0.0,"pc2":1.0},{"s":"Vicenin2","pc1":-0.3,"pc2":1.7},{"s":"Vicenin2","pc1":0.4,"pc2":1.3},{"s":"Vicenin2","pc1":0.8,"pc2":0.8},{"s":"Vicenin2","pc1":0.5,"pc2":-0.1},{"s":"Vicenin2","pc1":1.1,"pc2":-0.6},{"s":"Vicenin2","pc1":0.7,"pc2":-1.4},{"s":"Vicenin2","pc1":1.2,"pc2":-2.0},{"s":"Vicenin2","pc1":1.8,"pc2":-1.3},{"s":"Vicenin2","pc1":2.3,"pc2":-2.2},{"s":"Vicenin2","pc1":2.0,"pc2":-2.8},{"s":"Vicenin2","pc1":2.7,"pc2":-2.4},{"s":"Vicenin2","pc1":3.1,"pc2":-3.0},{"s":"Vicenin2","pc1":3.6,"pc2":-2.6},{"s":"Vicenin2","pc1":4.2,"pc2":-3.2},{"s":"Vicenin2","pc1":3.7,"pc2":-3.5},{"s":"Vicenin2","pc1":3.4,"pc2":-2.8},{"s":"Vicenin2","pc1":3.9,"pc2":-2.0},{"s":"Vicenin2","pc1":4.4,"pc2":-1.5},{"s":"Vicenin2","pc1":3.8,"pc2":-0.8},{"s":"Vicenin2","pc1":3.2,"pc2":-1.3},{"s":"Vicenin2","pc1":2.6,"pc2":-0.7},{"s":"Vicenin2","pc1":2.1,"pc2":-1.1},{"s":"Vicenin2","pc1":1.6,"pc2":-0.4},{"s":"Vicenin2","pc1":2.2,"pc2":0.2},{"s":"Vicenin2","pc1":1.5,"pc2":0.6},{"s":"Vicenin2","pc1":1.0,"pc2":1.3},{"s":"Vicenin2","pc1":0.7,"pc2":2.1},{"s":"Vicenin2","pc1":1.1,"pc2":2.9},{"s":"Vicenin2","pc1":1.7,"pc2":2.5},{"s":"Vicenin2","pc1":2.2,"pc2":2.9},{"s":"Vicenin2","pc1":2.8,"pc2":2.6},{"s":"Vicenin2","pc1":3.3,"pc2":2.1},{"s":"Vicenin2","pc1":3.8,"pc2":2.4},{"s":"Vicenin2","pc1":4.3,"pc2":1.8},{"s":"Vicenin2","pc1":4.7,"pc2":2.3},{"s":"Vicenin2","pc1":5.2,"pc2":2.6},{"s":"Vicenin2","pc1":5.6,"pc2":2.3},{"s":"Vicenin2","pc1":5.7,"pc2":1.9},{"s":"Vicenin2","pc1":5.2,"pc2":1.5},{"s":"Vicenin2","pc1":4.9,"pc2":0.9},{"s":"Vicenin2","pc1":4.5,"pc2":1.4},{"s":"Vicenin2","pc1":4.0,"pc2":0.8},{"s":"Vicenin2","pc1":3.5,"pc2":1.3},{"s":"Vicenin2","pc1":3.0,"pc2":0.7},{"s":"Vicenin2","pc1":2.6,"pc2":1.4},{"s":"Vicenin2","pc1":2.0,"pc2":1.0},{"s":"Vicenin2","pc1":1.4,"pc2":1.8},{"s":"Vicenin2","pc1":0.9,"pc2":1.4},{"s":"Vicenin2","pc1":0.3,"pc2":0.6},{"s":"Vicenin2","pc1":0.9,"pc2":0.1},{"s":"Vicenin2","pc1":1.5,"pc2":-0.1},{"s":"Vicenin2","pc1":2.0,"pc2":-0.7},{"s":"Vicenin2","pc1":2.6,"pc2":-0.2},{"s":"Vicenin2","pc1":3.1,"pc2":0.3},{"s":"Vicenin2","pc1":3.6,"pc2":-0.3},{"s":"Vicenin2","pc1":4.1,"pc2":0.2},{"s":"Vicenin2","pc1":4.4,"pc2":-0.6},{"s":"Vicenin2","pc1":3.9,"pc2":-1.2},{"s":"Vicenin2","pc1":3.3,"pc2":-1.8},{"s":"Vicenin2","pc1":2.8,"pc2":-1.4},{"s":"Vicenin2","pc1":2.3,"pc2":-0.4},{"s":"Vicenin2","pc1":1.7,"pc2":0.2},{"s":"Vicenin2","pc1":1.2,"pc2":-0.8},{"s":"Vicenin2","pc1":0.8,"pc2":-1.8},{"s":"Vicenin2","pc1":1.4,"pc2":-2.6},{"s":"Vicenin2","pc1":2.0,"pc2":-2.0},{"s":"Vicenin2","pc1":2.6,"pc2":-1.6},{"s":"Vicenin2","pc1":3.2,"pc2":-2.3},{"s":"Vicenin2","pc1":3.8,"pc2":-2.9},{"s":"Vicenin2","pc1":4.4,"pc2":-2.4},{"s":"Vicenin2","pc1":4.7,"pc2":-1.8},{"s":"Vicenin2","pc1":4.3,"pc2":-1.2},{"s":"Vicenin2","pc1":4.7,"pc2":-2.0},{"s":"Vicenin2","pc1":5.1,"pc2":-2.7},{"s":"Vicenin2","pc1":5.5,"pc2":-3.2},{"s":"Vicenin2","pc1":5.2,"pc2":-3.6},{"s":"Vicenin2","pc1":5.2,"pc2":-4.3},{"s":"Vicenin2","pc1":5.7,"pc2":-4.2},{"s":"Vicenin2","pc1":5.9,"pc2":-4.8},{"s":"Vicenin2","pc1":6.5,"pc2":-4.0},{"s":"Vicenin2","pc1":7.2,"pc2":-3.3},{"s":"Vicenin2","pc1":6.6,"pc2":-2.6},{"s":"Vicenin2","pc1":7.0,"pc2":-2.9},{"s":"Vicenin2","pc1":7.6,"pc2":-3.4},{"s":"Vicenin2","pc1":8.0,"pc2":-2.1},{"s":"Vicenin2","pc1":8.4,"pc2":-2.5},{"s":"Vicenin2","pc1":7.6,"pc2":-3.1},{"s":"Vicenin2","pc1":7.4,"pc2":-3.3},{"s":"Vicenin2","pc1":6.8,"pc2":-3.5},{"s":"Vicenin2","pc1":6.2,"pc2":-3.8},{"s":"Vicenin2","pc1":5.4,"pc2":-3.9}
    ],
    "eigen": [
      {"s":"Diosgenin","k":1,"ev":19.3},{"s":"Diosgenin","k":2,"ev":3.0},{"s":"Diosgenin","k":3,"ev":2.05},{"s":"Diosgenin","k":4,"ev":1.3},{"s":"Diosgenin","k":5,"ev":0.6},{"s":"Diosgenin","k":6,"ev":0.5},{"s":"Diosgenin","k":7,"ev":0.45},{"s":"Diosgenin","k":8,"ev":0.35},{"s":"Diosgenin","k":9,"ev":0.3},{"s":"Diosgenin","k":10,"ev":0.27},{"s":"Diosgenin","k":11,"ev":0.24},{"s":"Diosgenin","k":12,"ev":0.22},{"s":"Diosgenin","k":13,"ev":0.2},{"s":"Diosgenin","k":14,"ev":0.18},{"s":"Diosgenin","k":15,"ev":0.16},{"s":"Diosgenin","k":16,"ev":0.15},{"s":"Diosgenin","k":17,"ev":0.14},{"s":"Diosgenin","k":18,"ev":0.13},{"s":"Diosgenin","k":19,"ev":0.12},{"s":"Diosgenin","k":20,"ev":0.11},{"s":"Diosgenin","k":21,"ev":0.1},{"s":"Diosgenin","k":22,"ev":0.09},{"s":"Diosgenin","k":23,"ev":0.09},{"s":"Diosgenin","k":24,"ev":0.08},{"s":"Diosgenin","k":25,"ev":0.08},{"s":"Diosgenin","k":26,"ev":0.07},
      {"s":"Tigogenone","k":1,"ev":11.2},{"s":"Tigogenone","k":2,"ev":3.2},{"s":"Tigogenone","k":3,"ev":2.1},{"s":"Tigogenone","k":4,"ev":0.95},{"s":"Tigogenone","k":5,"ev":0.5},{"s":"Tigogenone","k":6,"ev":0.42},{"s":"Tigogenone","k":7,"ev":0.35},{"s":"Tigogenone","k":8,"ev":0.3},{"s":"Tigogenone","k":9,"ev":0.26},{"s":"Tigogenone","k":10,"ev":0.23},{"s":"Tigogenone","k":11,"ev":0.2},{"s":"Tigogenone","k":12,"ev":0.18},{"s":"Tigogenone","k":13,"ev":0.16},{"s":"Tigogenone","k":14,"ev":0.15},{"s":"Tigogenone","k":15,"ev":0.14},{"s":"Tigogenone","k":16,"ev":0.13},{"s":"Tigogenone","k":17,"ev":0.12},{"s":"Tigogenone","k":18,"ev":0.11},{"s":"Tigogenone","k":19,"ev":0.1},{"s":"Tigogenone","k":20,"ev":0.09},{"s":"Tigogenone","k":21,"ev":0.09},{"s":"Tigogenone","k":22,"ev":0.08},{"s":"Tigogenone","k":23,"ev":0.08},{"s":"Tigogenone","k":24,"ev":0.07},{"s":"Tigogenone","k":25,"ev":0.07},{"s":"Tigogenone","k":26,"ev":0.06},
      {"s":"Vicenin2","k":1,"ev":14.4},{"s":"Vicenin2","k":2,"ev":2.85},{"s":"Vicenin2","k":3,"ev":2.4},{"s":"Vicenin2","k":4,"ev":1.1},{"s":"Vicenin2","k":5,"ev":0.62},{"s":"Vicenin2","k":6,"ev":0.52},{"s":"Vicenin2","k":7,"ev":0.45},{"s":"Vicenin2","k":8,"ev":0.37},{"s":"Vicenin2","k":9,"ev":0.32},{"s":"Vicenin2","k":10,"ev":0.28},{"s":"Vicenin2","k":11,"ev":0.25},{"s":"Vicenin2","k":12,"ev":0.22},{"s":"Vicenin2","k":13,"ev":0.2},{"s":"Vicenin2","k":14,"ev":0.18},{"s":"Vicenin2","k":15,"ev":0.17},{"s":"Vicenin2","k":16,"ev":0.15},{"s":"Vicenin2","k":17,"ev":0.14},{"s":"Vicenin2","k":18,"ev":0.13},{"s":"Vicenin2","k":19,"ev":0.12},{"s":"Vicenin2","k":20,"ev":0.11},{"s":"Vicenin2","k":21,"ev":0.1},{"s":"Vicenin2","k":22,"ev":0.1},{"s":"Vicenin2","k":23,"ev":0.09},{"s":"Vicenin2","k":24,"ev":0.09},{"s":"Vicenin2","k":25,"ev":0.08},{"s":"Vicenin2","k":26,"ev":0.08}
    ]
  },
  "hconcat": [
    {
      "width": 395,
      "height": 321,
      "layer": [
        {
          "data": {"name": "trajectory"},
          "mark": {"type": "line", "strokeWidth": 1, "clip": true},
          "encoding": {
            "x": {"field": "pc1", "type": "quantitative",
              "scale": {"domain": [-10, 10], "nice": false, "zero": false},
              "axis": {"orient": "bottom", "values": [-10, -5, 0, 5, 10], "title": "Projection on eigenvector 1 (nm)", "titleFontWeight": "bold", "titlePadding": 6}},
            "y": {"field": "pc2", "type": "quantitative",
              "scale": {"domain": [-5, 6], "nice": false, "zero": false},
              "axis": {"orient": "left", "values": [-4, -2, 0, 2, 4, 6], "title": "Projection on eigenvector 2 (nm)", "titleFontWeight": "bold", "titlePadding": 16}},
            "color": {"field": "s", "type": "nominal",
              "scale": {"domain": ["Diosgenin", "Tigogenone", "Vicenin2"], "range": ["#000000", "#ff0000", "#0000ff"]},
              "legend": {"legendX": 269, "legendY": 5, "symbolType": "M-1.8,0H1.8", "symbolSize": 400, "symbolStrokeWidth": 1, "labelOffset": 12, "rowPadding": 2}},
            "order": {"value": null}
          }
        },
        {
          "data": {"values": [{}]},
          "mark": {"type": "text", "text": "(a)", "font": "Liberation Serif", "fontSize": 44, "fontWeight": "bold", "align": "center", "baseline": "alphabetic", "color": "#000"},
          "encoding": {
            "x": {"datum": -7.87, "type": "quantitative", "axis": {"orient": "bottom", "values": [-7.5, -2.5, 2.5, 7.5], "tickSize": 4, "labels": false, "domain": false, "title": null}},
            "y": {"datum": 4.73, "type": "quantitative", "axis": {"orient": "left", "values": [-5, -3, -1, 1, 3, 5], "tickSize": 4, "labels": false, "domain": false, "title": null}}
          }
        }
      ],
      "resolve": {"axis": {"x": "independent", "y": "independent"}}
    },
    {
      "width": 394,
      "height": 321,
      "layer": [
        {
          "data": {"name": "eigen"},
          "mark": {"type": "line", "strokeWidth": 2.5, "clip": true},
          "encoding": {
            "x": {"field": "k", "type": "quantitative",
              "scale": {"domain": [0, 25], "nice": false, "zero": false},
              "axis": {"orient": "bottom", "values": [0, 2, 4, 6, 8, 10, 12, 14, 16, 18, 20, 22, 24], "title": "Eigenvector index", "titleFontWeight": "normal", "titlePadding": 6}},
            "y": {"field": "ev", "type": "quantitative",
              "scale": {"domain": [-0.55, 22.5], "nice": false, "zero": false},
              "axis": {"orient": "left", "values": [0, 2.5, 5, 7.5, 10, 12.5, 15, 17.5, 20, 22.5], "format": ".1f", "title": "Eigen value (nm²)", "titleFontWeight": "normal", "titlePadding": 15}},
            "color": {"field": "s", "type": "nominal",
              "scale": {"domain": ["Diosgenin", "Tigogenone", "Vicenin2"], "range": ["#000000", "#ff0000", "#0000ff"]},
              "legend": {"legendX": 264, "legendY": 5, "symbolType": "M-1.9,0H1.9", "symbolSize": 400, "symbolStrokeWidth": 2.5, "labelOffset": 11, "rowPadding": 2}},
            "order": {"value": null}
          }
        },
        {
          "data": {"values": [{}]},
          "mark": {"type": "text", "text": "(b)", "font": "Liberation Serif", "fontSize": 44, "fontWeight": "bold", "align": "center", "baseline": "alphabetic", "color": "#000"},
          "encoding": {
            "x": {"datum": 3.65, "type": "quantitative", "axis": {"orient": "bottom", "values": [1, 3, 5, 7, 9, 11, 13, 15, 17, 19, 21, 23, 25], "tickSize": 4, "labels": false, "domain": false, "title": null}},
            "y": {"datum": 19.8, "type": "quantitative", "axis": {"orient": "left", "values": [1.25, 3.75, 6.25, 8.75, 11.25, 13.75, 16.25, 18.75, 21.25], "tickSize": 4, "labels": false, "domain": false, "title": null}}
          }
        },
        {
          "data": {"values": [{}]},
          "mark": {"type": "rule", "color": "#cccccc", "strokeWidth": 1, "clip": false},
          "encoding": {
            "x": {"datum": -4.1, "type": "quantitative", "axis": null},
            "x2": {"datum": 25.5},
            "y": {"datum": 23.0, "type": "quantitative", "axis": null}
          }
        }
      ],
      "resolve": {"axis": {"x": "independent", "y": "independent"}}
    }
  ]
}
